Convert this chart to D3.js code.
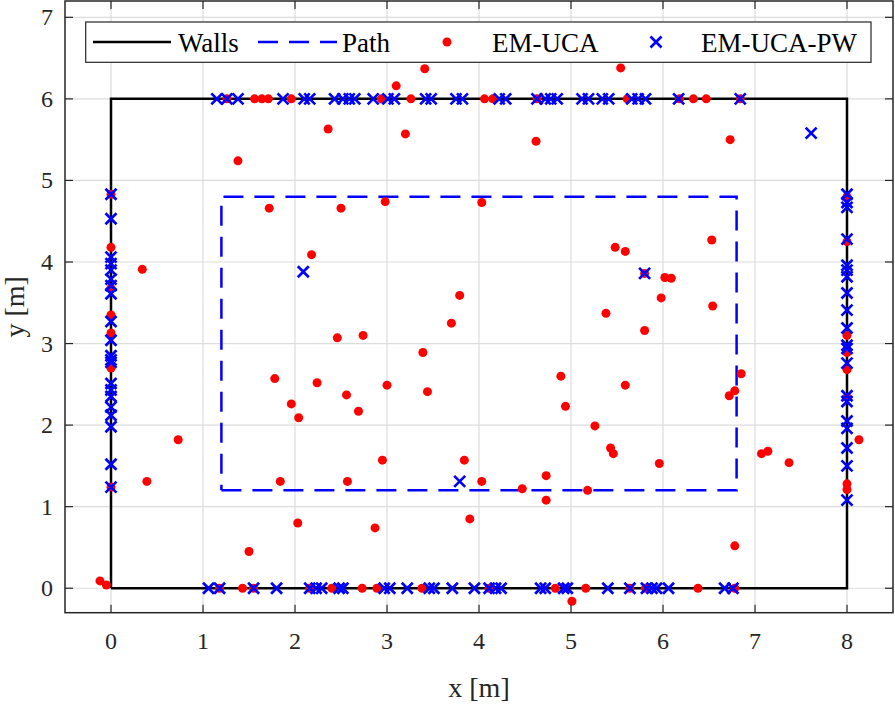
<!DOCTYPE html>
<html>
<head>
<meta charset="utf-8">
<script src="https://cdn.jsdelivr.net/npm/d3@7"></script>
<style>
  body { margin: 0; background: #fff; }
  svg { display: block; font-family: "Liberation Serif", "Times New Roman", serif; }
</style>
</head>
<body>
<svg id="chart" width="895" height="704"></svg>
<script>
// room outline and walking path (m)
const wallsX = [0, 8, 8, 0, 0];
const wallsY = [0, 0, 6, 6, 0];
const pathX = [1.2, 6.8, 6.8, 1.2, 1.2];
const pathY = [1.2, 1.2, 4.8, 4.8, 1.2];

const xTicks = [0, 1, 2, 3, 4, 5, 6, 7, 8];
const yTicks = [0, 1, 2, 3, 4, 5, 6, 7];
const legendLabels = ["Walls", "Path", "EM-UCA", "EM-UCA-PW"];

// EM-UCA estimates
const ucaTop = [1.26, 1.56, 1.64, 1.71, 1.96, 2.94, 3.26, 4.06, 4.15, 4.63, 5.61, 6.18, 6.33, 6.47, 6.84];
const ucaBottom = [1.18, 1.43, 1.55, 2.16, 2.40, 2.73, 2.89, 3.38, 4.11, 4.83, 5.16, 5.64, 5.81, 6.38, 6.78];
const ucaLeft = [4.83, 4.18, 3.68, 3.35, 3.13, 2.70, 1.24];
const ucaRight = [4.80, 4.25, 3.10, 2.89, 2.68, 2.34, 1.28, 1.21];
const ucaOther = [
  [3.10, 6.16], [3.41, 6.37], [5.54, 6.38], [2.36, 5.63], [3.20, 5.57], [1.38, 5.24],
  [4.62, 5.48], [6.73, 5.50], [1.72, 4.66], [2.50, 4.66], [2.98, 4.74], [4.03, 4.73],
  [2.18, 4.09], [0.34, 3.91], [3.79, 3.59], [3.70, 3.25], [6.53, 4.27], [5.48, 4.18],
  [5.59, 4.13], [5.80, 3.86], [6.02, 3.81], [6.09, 3.80], [5.98, 3.56], [6.54, 3.46],
  [5.38, 3.37], [5.80, 3.16], [2.46, 3.07], [2.74, 3.10], [3.39, 2.89], [1.78, 2.57],
  [2.24, 2.52], [3.00, 2.49], [3.44, 2.41], [2.56, 2.37], [1.96, 2.26], [2.69, 2.17],
  [2.04, 2.09], [2.95, 1.57], [3.84, 1.57], [0.73, 1.82], [0.39, 1.31], [1.84, 1.31],
  [2.57, 1.31], [4.03, 1.31], [2.03, 0.80], [2.87, 0.74], [3.90, 0.85], [1.50, 0.45],
  [-0.12, 0.09], [-0.05, 0.04], [4.89, 2.60], [5.59, 2.49], [6.85, 2.63], [6.72, 2.36],
  [6.78, 2.42], [4.94, 2.23], [5.26, 1.99], [5.43, 1.72], [5.46, 1.65], [5.96, 1.53],
  [7.07, 1.65], [7.14, 1.68], [7.37, 1.54], [4.47, 1.22], [4.73, 1.38], [4.73, 1.08],
  [5.18, 1.20], [6.78, 0.52], [5.01, -0.16], [8.13, 1.82]
];

// EM-UCA-PW estimates
const pwTop = [1.15, 1.26, 1.38, 1.87, 2.10, 2.16, 2.43, 2.52, 2.59, 2.65, 2.85, 3.01, 3.08, 3.42, 3.48, 3.75,
  3.82, 4.22, 4.29, 4.63, 4.72, 4.78, 4.85, 5.12, 5.19, 5.34, 5.41, 5.66, 5.73, 5.81, 6.17, 6.84];
const pwBottom = [1.06, 1.18, 1.55, 1.80, 2.16, 2.23, 2.29, 2.48, 2.52, 2.97, 3.03, 3.22, 3.46, 3.51, 3.71, 3.95,
  4.11, 4.18, 4.24, 4.67, 4.72, 4.92, 4.96, 5.40, 5.64, 5.82, 5.88, 5.93, 6.06, 6.67, 6.76];
const pwLeft = [4.83, 4.53, 4.06, 3.98, 3.90, 3.79, 3.71, 3.61, 3.27, 3.04, 2.85, 2.80, 2.77, 2.51, 2.43, 2.35,
  2.22, 2.12, 1.98, 1.52, 1.24];
const pwRight = [4.83, 4.73, 4.67, 4.28, 3.96, 3.90, 3.82, 3.62, 3.41, 3.19, 2.98, 2.94, 2.76, 2.36, 2.29, 2.05,
  1.96, 1.72, 1.50, 1.08];
const pwOther = [[7.61, 5.58], [2.09, 3.88], [5.80, 3.86], [3.79, 1.31]];

function collect(top, bottom, left, right, other) {
  return [].concat(
    top.map(x => [x, 6]), bottom.map(x => [x, 0]),
    left.map(y => [0, y]), right.map(y => [8, y]), other);
}
const ucaPts = collect(ucaTop, ucaBottom, ucaLeft, ucaRight, ucaOther);
const pwPts = collect(pwTop, pwBottom, pwLeft, pwRight, pwOther);

const svg = d3.select("#chart");
const L = 65, R = 893, T = 1, B = 612.7;
const x = d3.scaleLinear().domain([-0.5, 8.5]).range([L, R]);
const y = d3.scaleLinear().domain([-0.3, 7.2]).range([B, T]);

// grid
const grid = svg.append("g").attr("stroke", "#dcdcdc").attr("stroke-width", 1.2);
grid.selectAll(".gx").data(xTicks).join("line")
  .attr("x1", d => x(d)).attr("x2", d => x(d)).attr("y1", T).attr("y2", B);
grid.selectAll(".gy").data(yTicks).join("line")
  .attr("y1", d => y(d)).attr("y2", d => y(d)).attr("x1", L).attr("x2", R);

const line = d3.line().x(d => x(d[0])).y(d => y(d[1]));
svg.append("path").datum(d3.zip(wallsX, wallsY)).attr("d", line)
  .attr("fill", "none").attr("stroke", "#000").attr("stroke-width", 2.5);
svg.append("path").datum(d3.zip(pathX, pathY)).attr("d", line)
  .attr("fill", "none").attr("stroke", "#0000ff").attr("stroke-width", 2.5)
  .attr("stroke-dasharray", "20,11");

svg.append("g").selectAll("circle").data(ucaPts).join("circle")
  .attr("cx", d => x(d[0])).attr("cy", d => y(d[1])).attr("r", 4.5).attr("fill", "#ff0000");

const cross = (g, cx, cy) => g.append("path")
  .attr("d", `M${cx - 5.5},${cy - 5.5}L${cx + 5.5},${cy + 5.5}M${cx - 5.5},${cy + 5.5}L${cx + 5.5},${cy - 5.5}`)
  .attr("stroke", "#0000ff").attr("stroke-width", 2.7).attr("fill", "none");
const pwG = svg.append("g");
pwPts.forEach(d => cross(pwG, x(d[0]), y(d[1])));

// axes box with inward ticks on all sides
const axC = "#262626";
svg.append("rect").attr("x", L).attr("y", T).attr("width", R - L).attr("height", B - T)
  .attr("fill", "none").attr("stroke", axC).attr("stroke-width", 1.5);
const tk = svg.append("g").attr("stroke", axC).attr("stroke-width", 1.2);
const tl = 8;
xTicks.forEach(d => {
  tk.append("line").attr("x1", x(d)).attr("x2", x(d)).attr("y1", B).attr("y2", B - tl);
  tk.append("line").attr("x1", x(d)).attr("x2", x(d)).attr("y1", T).attr("y2", T + tl);
});
yTicks.forEach(d => {
  tk.append("line").attr("y1", y(d)).attr("y2", y(d)).attr("x1", L).attr("x2", L + tl);
  tk.append("line").attr("y1", y(d)).attr("y2", y(d)).attr("x1", R).attr("x2", R - tl);
});

svg.append("g").selectAll("text").data(xTicks).join("text")
  .attr("x", d => x(d)).attr("y", 649).attr("text-anchor", "middle")
  .attr("font-size", 24).attr("fill", axC).text(d => d);
svg.append("g").selectAll("text").data(yTicks).join("text")
  .attr("x", 53).attr("y", d => y(d) + 8).attr("text-anchor", "end")
  .attr("font-size", 24).attr("fill", axC).text(d => d);

svg.append("text").attr("x", (L + R) / 2).attr("y", 697).attr("text-anchor", "middle")
  .attr("font-size", 28).attr("fill", axC).text("x [m]");
svg.append("text").attr("transform", `translate(24,${(T + B) / 2}) rotate(-90)`)
  .attr("text-anchor", "middle").attr("font-size", 28).attr("fill", axC).text("y [m]");

// legend
const lg = svg.append("g");
lg.append("rect").attr("x", 85.7).attr("y", 22).attr("width", 785.3).attr("height", 40.3)
  .attr("fill", "#fff").attr("stroke", axC).attr("stroke-width", 1.2);
const ly = 42;
lg.append("line").attr("x1", 93).attr("x2", 171).attr("y1", ly).attr("y2", ly)
  .attr("stroke", "#000").attr("stroke-width", 2.5);
lg.append("line").attr("x1", 258).attr("x2", 337).attr("y1", ly).attr("y2", ly)
  .attr("stroke", "#0000ff").attr("stroke-width", 2.5).attr("stroke-dasharray", "20,11");
lg.append("circle").attr("cx", 447).attr("cy", ly).attr("r", 4.5).attr("fill", "#ff0000");
cross(lg, 656, ly);
const textX = [178, 342, 492, 701];
legendLabels.forEach((t, i) => lg.append("text").attr("x", textX[i]).attr("y", ly + 10)
  .attr("font-size", 27).attr("fill", "#000").text(t));
</script>
</body>
</html>
